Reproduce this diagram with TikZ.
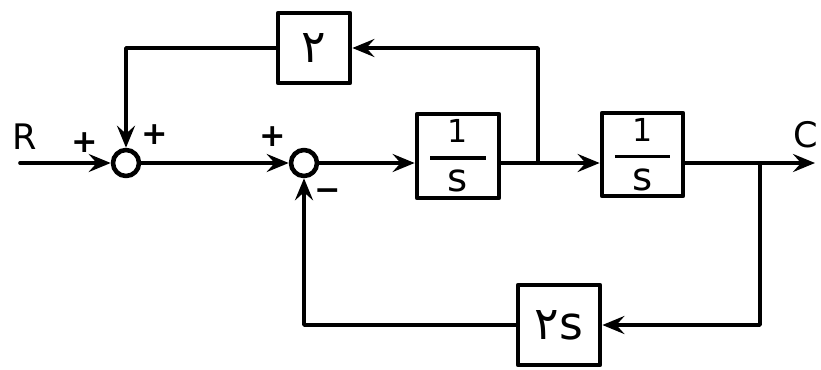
\documentclass[tikz,border=0pt]{standalone}
\usepackage{amsmath}
\usepackage{fontspec}
\setmainfont{DejaVu Sans}
\newfontfamily\fafont[Script=Arabic]{DejaVu Sans}
\usetikzlibrary{arrows.meta}
\newcommand{\ovs}{$\genfrac{}{}{1pt}{0}{\hspace{5pt}\textrm{\fontsize{9}{10}\selectfont 1}\hspace{5pt}}{\textrm{\fontsize{11}{12}\selectfont s}}$}
\begin{document}
\begin{tikzpicture}[>={Stealth[length=2.2mm,width=1.8mm,inset=.8mm]},line join=round,line cap=round,line width=1.05pt,font=\fontsize{9}{10}\selectfont\bfseries,
	blk/.style={draw,line width=1.35pt,inner sep=0pt,minimum width=.82cm,minimum height=.84cm,font=\mdseries},
	sum/.style={draw,circle,line width=1.3pt,inner sep=0pt,minimum size=.26cm},
	sig/.style={font=\fontsize{10}{11}\selectfont}]
			\useasboundingbox (0,0) rectangle (8.21,3.69);
			\coordinate (in)at(.2,2.06);
			\node[sum] (s1)at(1.26,2.06) {};
			\node[sum] (s2)at(3.04,2.06) {};
			\node[blk] (g1)at(4.58,2.13) {\ovs};
			\node[blk,minimum width=.81cm,minimum height=.83cm] (g2)at(6.425,2.145) {\ovs};
			\node[blk,minimum width=.72cm,minimum height=.7cm,font=\fontsize{13}{14}\selectfont] (k)at(3.14,3.21) {\fafont ۲};
			\node[blk,minimum height=.8cm,font=\fontsize{13}{14}\selectfont] (h)at(5.59,.44) {{\fafont ۲}s};
			\coordinate (b1)at(5.38,2.06);
			\coordinate (b2)at(7.6,2.06);
			\coordinate (out)at(8.15,2.06);
			\coordinate[label={[sig]center:R}] (R)at(.25,2.32);
			\node[sig,anchor=east,inner sep=0pt] (C)at(8.2,2.34) {C};
			\coordinate[label=center:+] (p1)at(.85,2.26);
			\coordinate[label=center:+] (p2)at(1.55,2.34);
			\coordinate[label=center:+] (p3)at(2.73,2.32);
			\coordinate[label=center:−] (m3)at(3.28,1.74);
			% forward path
			\draw[->] (in)--(s1);
			\draw[->] (s1)--(s2);
			\draw[->] (s2)--(s2-|g1.west);
			\draw[->] (s2-|g1.east)--(s2-|g2.west);
			\draw[->] (s2-|g2.east)--(out);
			% loops
			\draw[->] (b1)|-(k.east);
			\draw[->] (k.west)-|(s1.north);
			\draw[->] (b2)|-(h.east);
			\draw[->] (h.west)-|(s2.south);
	\end{tikzpicture}
\end{document}
